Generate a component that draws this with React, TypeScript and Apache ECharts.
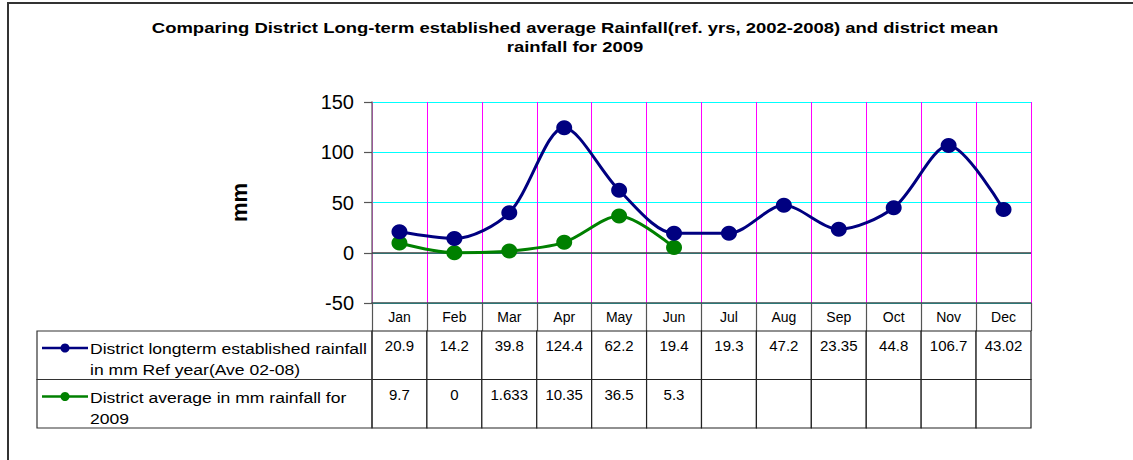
import React, { useEffect, useRef } from "react";
import * as echarts from "echarts";

const months = ["Jan", "Feb", "Mar", "Apr", "May", "Jun", "Jul", "Aug", "Sep", "Oct", "Nov", "Dec"];
const longTerm = [20.9, 14.2, 39.8, 124.4, 62.2, 19.4, 19.3, 47.2, 23.35, 44.8, 106.7, 43.02];
const y2009: (number | null)[] = [9.7, 0, 1.633, 10.35, 36.5, 5.3, null, null, null, null, null, null];
const longTermLabels = ["20.9", "14.2", "39.8", "124.4", "62.2", "19.4", "19.3", "47.2", "23.35", "44.8", "106.7", "43.02"];
const y2009Labels = ["9.7", "0", "1.633", "10.35", "36.5", "5.3", "", "", "", "", "", ""];
const seriesNames = ["District longterm established rainfall", "District average in mm rainfall for 2009"];
const legendLines = [
  ["District longterm established rainfall", "in mm Ref year(Ave 02-08)"],
  ["District average in mm rainfall for", "2009"],
];
const titleText = "Comparing District Long-term established average Rainfall(ref. yrs, 2002-2008) and district mean\nrainfall for 2009";
const yTicks = { min: -50, max: 150, interval: 50 };

const BLUE = "#000080";
const GREEN = "#008000";
const FONT = "Liberation Sans, Arial, sans-serif";

export default function App() {
  const ref = useRef<HTMLDivElement>(null);
  useEffect(() => {
    if (!ref.current) return;
    const chart = echarts.init(ref.current, undefined, { renderer: "svg" });
    const plotLeft = 372;
    const plotWidth = 659;
    const tableTop = 331;
    const tableHeight = 97;
    const rowH = tableHeight / 2;
    const rowsLabels = [longTermLabels, y2009Labels];
    const cells: { c: number; r: number; text: string }[] = [];
    rowsLabels.forEach((row, r) => row.forEach((t, c) => cells.push({ c, r, text: t })));

    const legendGraphics: any[] = [];
    [BLUE, GREEN].forEach((col, i) => {
      const top = tableTop + i * rowH;
      legendGraphics.push({
        type: "rect",
        shape: { x: 37, y: top, width: plotLeft - 37, height: rowH },
        style: { fill: "none", stroke: "#333", lineWidth: 1.2 },
        z: 10,
      });
      legendGraphics.push({
        type: "line",
        shape: { x1: 42, y1: top + 17, x2: 88, y2: top + 17 },
        style: { stroke: col, lineWidth: 2.5 },
        z: 10,
      });
      legendGraphics.push({
        type: "circle",
        shape: { cx: 65, cy: top + 17, r: 4.5 },
        style: { fill: col },
        z: 10,
      });
      legendGraphics.push({
        type: "text",
        x: 90,
        y: top + 7,
        scaleX: 1.17,
        style: {
          text: legendLines[i].join("\n"),
          font: `15px ${FONT}`,
          fill: "#000",
          lineHeight: 21,
        },
        z: 10,
      });
    });

    chart.setOption({
      animation: false,
      graphic: [
        {
          type: "rect",
          shape: { x: 8, y: 3, width: 1200, height: 500 },
          style: { fill: "none", stroke: "#333", lineWidth: 2 },
        },
        {
          type: "text",
          x: 575,
          y: 18,
          scaleX: 1.32,
          style: {
            text: titleText,
            align: "center",
            verticalAlign: "top",
            font: `bold 14px ${FONT}`,
            fill: "#000",
            lineHeight: 19,
          },
        },
        ...legendGraphics,
      ],
      grid: [
        { left: plotLeft, top: 102, width: plotWidth, height: 201 },
        { left: plotLeft, top: tableTop, width: plotWidth, height: tableHeight },
      ],
      xAxis: [
        {
          type: "category",
          gridIndex: 0,
          data: months,
          boundaryGap: true,
          axisLine: { onZero: false, lineStyle: { color: "#3a4a4a", width: 1.5 } },
          axisTick: { show: true, interval: 0, length: 28, lineStyle: { color: "#555", width: 1.2 } },
          axisLabel: { interval: 0, color: "#000", fontSize: 14, fontFamily: FONT, margin: 7 },
          splitLine: { show: true, interval: 0, lineStyle: { color: "#FF00FF", width: 1 } },
        },
        {
          type: "category",
          gridIndex: 1,
          data: months,
          boundaryGap: true,
          show: false,
        },
      ],
      yAxis: [
        {
          type: "value",
          gridIndex: 0,
          min: yTicks.min,
          max: yTicks.max,
          interval: yTicks.interval,
          name: "mm",
          nameLocation: "middle",
          nameGap: 122,
          nameRotate: 90,
          nameTextStyle: { fontFamily: FONT, fontSize: 22, fontWeight: "bold", color: "#000" },
          axisLine: { show: true, lineStyle: { color: "#777", width: 1.5 } },
          axisTick: { show: true, length: 8, lineStyle: { color: "#555", width: 1.2 } },
          axisLabel: { color: "#000", fontSize: 20, fontFamily: FONT, margin: 18 },
          splitLine: { show: true, lineStyle: { color: "#00FFFF", width: 1 } },
        },
        {
          type: "category",
          gridIndex: 1,
          data: ["r0", "r1"],
          inverse: true,
          show: false,
        },
      ],
      series: [
        {
          name: seriesNames[0],
          type: "line",
          xAxisIndex: 0,
          yAxisIndex: 0,
          data: longTerm,
          smooth: 0.3,
          symbol: "circle",
          symbolSize: [16, 15],
          lineStyle: { color: BLUE, width: 3 },
          itemStyle: { color: BLUE },
          z: 5,
          markLine: {
            silent: true,
            symbol: "none",
            label: { show: false },
            lineStyle: { color: "#404040", type: "solid", width: 1.5 },
            data: [{ yAxis: 0 }],
            z: 1,
          },
        },
        {
          name: seriesNames[1],
          type: "line",
          xAxisIndex: 0,
          yAxisIndex: 0,
          data: y2009,
          smooth: 0.3,
          symbol: "circle",
          symbolSize: [16, 15],
          lineStyle: { color: GREEN, width: 3 },
          itemStyle: { color: GREEN },
          z: 4,
        },
        {
          type: "custom",
          xAxisIndex: 1,
          yAxisIndex: 1,
          data: cells.map((d) => [d.c, d.r]),
          renderItem: (params: any, api: any) => {
            const cell = cells[params.dataIndex];
            const center = api.coord([api.value(0), api.value(1)]);
            const size = api.size([1, 1]);
            const x = center[0] - size[0] / 2;
            const y = center[1] - size[1] / 2;
            return {
              type: "group",
              children: [
                {
                  type: "rect",
                  shape: { x, y, width: size[0], height: size[1] },
                  style: { fill: "#fff", stroke: "#222", lineWidth: 1.2 },
                },
                {
                  type: "text",
                  style: {
                    text: cell.text,
                    x: center[0],
                    y: y + 7,
                    align: "center",
                    verticalAlign: "top",
                    font: `15px ${FONT}`,
                    fill: "#000",
                  },
                },
              ],
            };
          },
        },
      ],
    });
    return () => chart.dispose();
  }, []);
  return <div ref={ref} style={{ position: "absolute", left: 0, top: 0, width: 1133, height: 460, background: "#fff" }} />;
}
